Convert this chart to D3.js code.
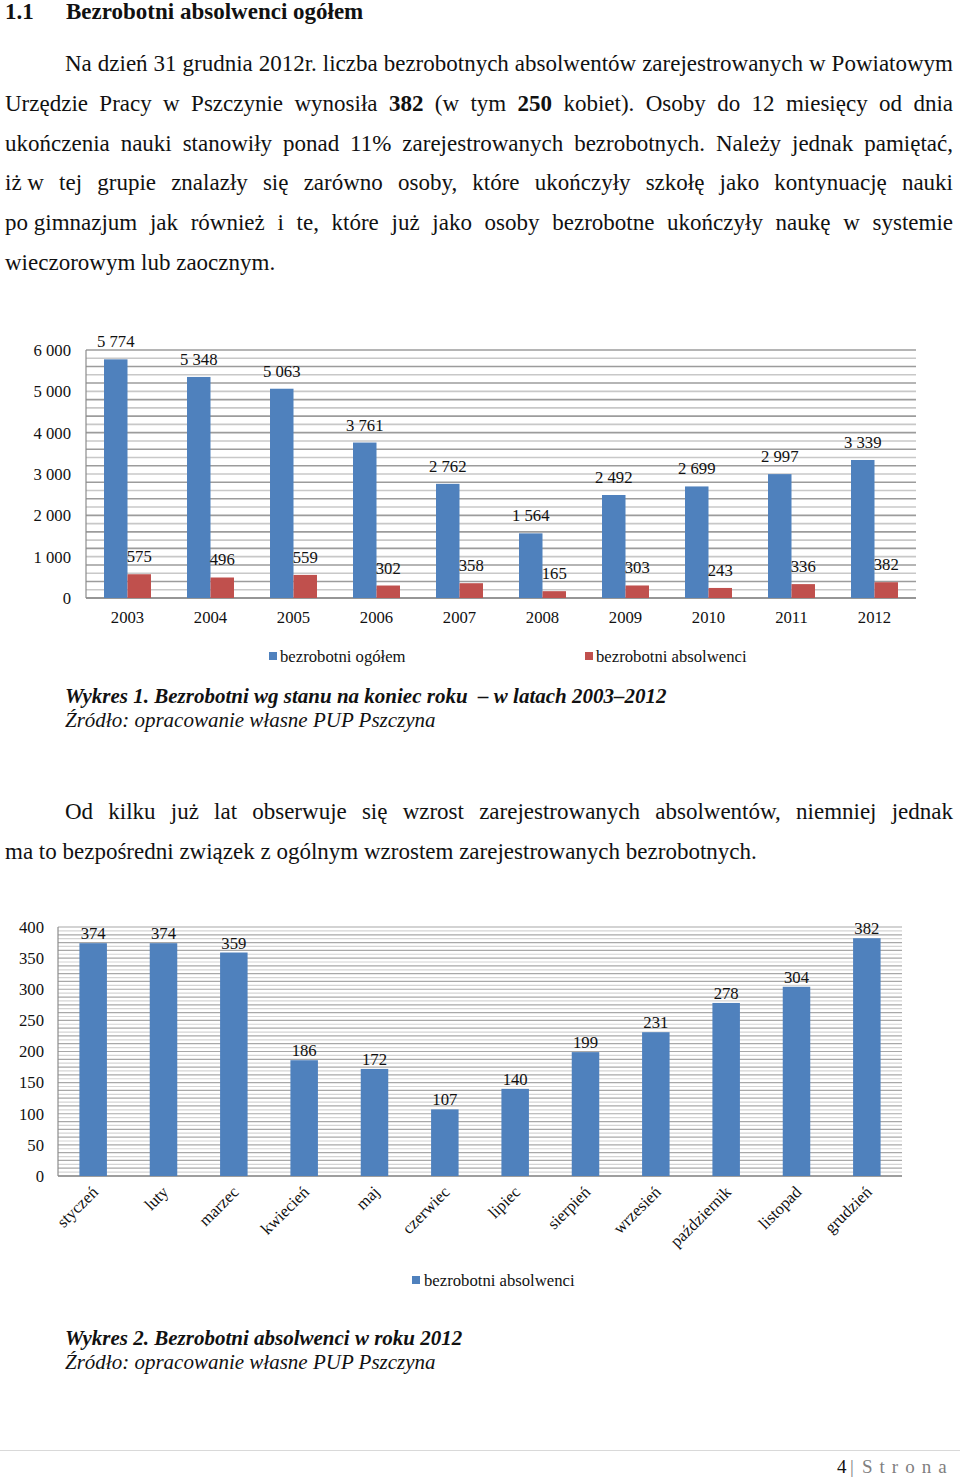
<!DOCTYPE html>
<html><head><meta charset="utf-8">
<script src="https://cdn.jsdelivr.net/npm/d3@7"></script>
<style>
html,body{margin:0;padding:0;background:#fff;}
svg{display:block;}
</style></head>
<body>
<script>
// ---------- DATA ----------
const years = ["2003","2004","2005","2006","2007","2008","2009","2010","2011","2012"];
const ogolem = [5774, 5348, 5063, 3761, 2762, 1564, 2492, 2699, 2997, 3339];
const absolwenci = [575, 496, 559, 302, 358, 165, 303, 243, 336, 382];
const yTicks1 = [0, 1000, 2000, 3000, 4000, 5000, 6000];
const seriesNames1 = ["bezrobotni ogółem", "bezrobotni absolwenci"];

const months = ["styczeń","luty","marzec","kwiecień","maj","czerwiec","lipiec","sierpień","wrzesień","październik","listopad","grudzień"];
const absolwenci2012 = [374, 374, 359, 186, 172, 107, 140, 199, 231, 278, 304, 382];
const yTicks2 = [0, 50, 100, 150, 200, 250, 300, 350, 400];
const seriesName2 = "bezrobotni absolwenci";

const para1 = [
  "Na dzień 31 grudnia 2012r. liczba bezrobotnych absolwentów zarejestrowanych w Powiatowym",
  "Urzędzie Pracy w Pszczynie wynosiła **382** (w tym **250** kobiet). Osoby do 12 miesięcy od dnia",
  "ukończenia nauki stanowiły ponad 11% zarejestrowanych bezrobotnych. Należy jednak pamiętać,",
  "iż\u00a0w tej grupie znalazły się zarówno osoby, które ukończyły szkołę jako kontynuację nauki",
  "po\u00a0gimnazjum jak również i te, które już jako osoby bezrobotne ukończyły naukę w systemie",
  "wieczorowym lub zaocznym."
];
const para2 = [
  "Od kilku już lat obserwuje się wzrost zarejestrowanych absolwentów, niemniej jednak",
  "ma to bezpośredni związek z ogólnym wzrostem zarejestrowanych bezrobotnych."
];

// ---------- SETUP ----------
const W = 960, H = 1478;
const FONT = "'Liberation Serif','Times New Roman',serif";
const BLUE = "#4F81BD", RED = "#C0504D";
const FS = 16.7; // chart text size
const BODY = 23;
const svg = d3.select("body").append("svg").attr("width", W).attr("height", H)
  .style("font-family", FONT);

const loc = d3.formatLocale({decimal: ",", thousands: "\u00a0", grouping: [3], currency: ["", ""]});
const fmt = loc.format(",d");

// justified line helper
function textLine(x0, x1, y, str, opts) {
  opts = opts || {};
  const size = opts.size || BODY;
  const tokens = str.split(" ").map(t => {
    const bold = /^\*\*.*\*\*/.test(t);
    return {text: t.replace(/\*\*/g, ""), bold};
  });
  const g = svg.append("g");
  const nodes = tokens.map(t => g.append("text")
    .attr("y", y).attr("font-size", size)
    .attr("font-weight", (t.bold || opts.bold) ? "bold" : "normal")
    .attr("fill", "#111")
    .text(t.text));
  const widths = nodes.map(n => n.node().getComputedTextLength());
  const total = d3.sum(widths);
  let gap;
  if (opts.justify && nodes.length > 1) gap = (x1 - x0 - total) / (nodes.length - 1);
  else gap = size * 0.25;
  let x = x0;
  nodes.forEach((n, i) => { n.attr("x", x); x += widths[i] + gap; });
}

// heading
svg.append("text").attr("x", 5).attr("y", 19).attr("font-size", 23).attr("font-weight", "bold").attr("fill", "#111").text("1.1");
svg.append("text").attr("x", 66).attr("y", 19).attr("font-size", 23).attr("font-weight", "bold").attr("fill", "#111").text("Bezrobotni absolwenci ogółem");

// paragraph 1
const pY = [71, 111, 151, 190, 230, 270];
para1.forEach((l, i) => {
  const x0 = i === 0 ? 65 : 5;
  textLine(x0, 953, pY[i], l, {justify: i < para1.length - 1});
});

// ---------- CHART 1 ----------
const y1 = d3.scaleLinear().domain([0, 6000]).range([598, 350]);
const x1 = d3.scaleBand().domain(years).range([86, 916]).paddingInner(0.434).paddingOuter(0.217);
const xs1 = d3.scaleBand().domain([0, 1]).range([0, x1.bandwidth()]);

const c1 = svg.append("g");
const grid1 = d3.range(0, 6001, 200);
c1.selectAll("line.g").data(grid1).join("line")
  .attr("x1", 86).attr("x2", 916)
  .attr("y1", d => y1(d)).attr("y2", d => y1(d))
  .attr("stroke", (d, i) => i % 2 ? "#c8c8c8" : "#9c9c9c")
  .attr("stroke-width", 1.6);
c1.append("line").attr("x1", 86).attr("x2", 86).attr("y1", 350).attr("y2", 598).attr("stroke", "#8c8c8c").attr("stroke-width", 1.2);
c1.append("line").attr("x1", 86).attr("x2", 916).attr("y1", 598).attr("y2", 598).attr("stroke", "#8c8c8c").attr("stroke-width", 1.5);

const series1 = [ogolem, absolwenci];
const colors1 = [BLUE, RED];
series1.forEach((vals, s) => {
  c1.selectAll("rect.s" + s).data(vals).join("rect")
    .attr("x", (d, i) => x1(years[i]) + xs1(s))
    .attr("width", xs1.bandwidth())
    .attr("y", d => y1(d))
    .attr("height", d => y1(0) - y1(d))
    .attr("fill", colors1[s]);
  c1.selectAll("text.s" + s).data(vals).join("text")
    .attr("x", (d, i) => x1(years[i]) + xs1(s) + xs1.bandwidth() / 2)
    .attr("y", d => y1(d) - 12)
    .attr("text-anchor", "middle").attr("font-size", FS).attr("fill", "#111")
    .text(d => fmt(d));
});

const ax1 = c1.append("g").attr("transform", "translate(86,0)")
  .call(d3.axisLeft(y1).tickValues(yTicks1).tickSize(0).tickPadding(15).tickFormat(fmt));
ax1.select(".domain").remove();
ax1.selectAll("text").attr("font-size", FS).attr("font-family", FONT).attr("fill", "#111");
const bx1 = c1.append("g").attr("transform", "translate(0,598)")
  .call(d3.axisBottom(x1).tickSize(0).tickPadding(13));
bx1.select(".domain").remove();
bx1.selectAll("text").attr("font-size", FS).attr("font-family", FONT).attr("fill", "#111");

const leg1x = [269, 585];
seriesNames1.forEach((n, i) => {
  c1.append("rect").attr("x", leg1x[i]).attr("y", 652).attr("width", 8).attr("height", 8).attr("fill", colors1[i]);
  c1.append("text").attr("x", leg1x[i] + 11).attr("y", 662).attr("font-size", FS).attr("fill", "#111").text(n);
});

svg.append("text").attr("x", 65).attr("y", 703).attr("font-size", 21).attr("font-weight", "bold").attr("font-style", "italic").attr("fill", "#111")
  .style("white-space", "pre")
  .text("Wykres 1. Bezrobotni wg stanu na koniec roku  \u2013 w latach 2003\u20132012");
svg.append("text").attr("x", 65).attr("y", 727).attr("font-size", 21).attr("font-style", "italic").attr("fill", "#111")
  .text("Źródło: opracowanie własne PUP Pszczyna");

textLine(65, 953, 819, para2[0], {justify: true});
textLine(5, 953, 859, para2[1], {justify: false});

// ---------- CHART 2 ----------
const y2 = d3.scaleLinear().domain([0, 400]).range([1176, 927]);
const x2 = d3.scaleBand().domain(months).range([58, 902]).paddingInner(0.609).paddingOuter(0.3045);
const c2 = svg.append("g");
const grid2 = d3.range(0, 400.01, 6.25);
c2.selectAll("line.g").data(grid2).join("line")
  .attr("x1", 58).attr("x2", 902)
  .attr("y1", d => y2(d)).attr("y2", d => y2(d))
  .attr("stroke", (d, i) => i % 2 ? "#d4d4d4" : "#a8a8a8")
  .attr("stroke-width", 1.2);
c2.append("line").attr("x1", 58).attr("x2", 58).attr("y1", 927).attr("y2", 1176).attr("stroke", "#8c8c8c").attr("stroke-width", 1.2);
c2.append("line").attr("x1", 58).attr("x2", 902).attr("y1", 1176).attr("y2", 1176).attr("stroke", "#8c8c8c").attr("stroke-width", 1.5);

c2.selectAll("rect.b").data(absolwenci2012).join("rect")
  .attr("x", (d, i) => x2(months[i]))
  .attr("width", x2.bandwidth())
  .attr("y", d => y2(d))
  .attr("height", d => y2(0) - y2(d))
  .attr("fill", BLUE);
c2.selectAll("text.v").data(absolwenci2012).join("text")
  .attr("x", (d, i) => x2(months[i]) + x2.bandwidth() / 2)
  .attr("y", d => y2(d) - 4)
  .attr("text-anchor", "middle").attr("font-size", FS).attr("fill", "#111")
  .text(d => d);

const ax2 = c2.append("g").attr("transform", "translate(58,0)")
  .call(d3.axisLeft(y2).tickValues(yTicks2).tickSize(0).tickPadding(14));
ax2.select(".domain").remove();
ax2.selectAll("text").attr("font-size", FS).attr("font-family", FONT).attr("fill", "#111");

c2.selectAll("text.m").data(months).join("text")
  .attr("transform", d => `translate(${x2(d) + x2.bandwidth() / 2 + 6},${1193}) rotate(-45)`)
  .attr("text-anchor", "end").attr("font-size", FS).attr("fill", "#111")
  .text(d => d);

c2.append("rect").attr("x", 412).attr("y", 1276).attr("width", 8).attr("height", 8).attr("fill", BLUE);
c2.append("text").attr("x", 424).attr("y", 1286).attr("font-size", FS).attr("fill", "#111").text(seriesName2);

svg.append("text").attr("x", 65).attr("y", 1345).attr("font-size", 21).attr("font-weight", "bold").attr("font-style", "italic").attr("fill", "#111")
  .text("Wykres 2. Bezrobotni absolwenci w roku 2012");
svg.append("text").attr("x", 65).attr("y", 1369).attr("font-size", 21).attr("font-style", "italic").attr("fill", "#111")
  .text("Źródło: opracowanie własne PUP Pszczyna");

// footer
svg.append("line").attr("x1", 0).attr("x2", 960).attr("y1", 1450.5).attr("y2", 1450.5).attr("stroke", "#d9d9d9").attr("stroke-width", 1);
svg.append("text").attr("x", 837).attr("y", 1473).attr("font-size", 19).attr("fill", "#111").text("4");
svg.append("text").attr("x", 850).attr("y", 1473).attr("font-size", 19).attr("fill", "#7f7f7f").text("|");
svg.append("text").attr("x", 862).attr("y", 1473).attr("font-size", 19).attr("fill", "#7f7f7f").attr("letter-spacing", 7).text("Strona");
</script>
</body></html>
